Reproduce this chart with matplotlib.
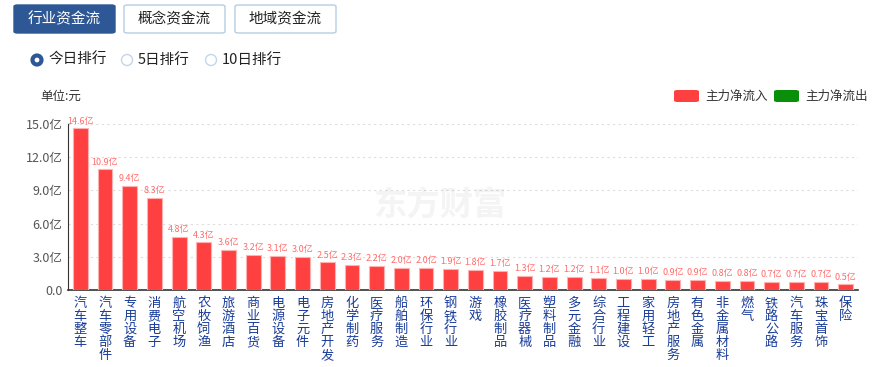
import matplotlib
matplotlib.use('Agg')
import matplotlib.pyplot as plt
from matplotlib.patches import FancyBboxPatch, Ellipse

plt.rcParams['font.family'] = ['Noto Sans CJK SC', 'DejaVu Sans']

# 行业名称与主力净流入(亿元)
industries = ['汽车整车', '汽车零部件', '专用设备', '消费电子', '航空机场', '农牧饲渔',
              '旅游酒店', '商业百货', '电源设备', '电子元件', '房地产开发', '化学制药',
              '医疗服务', '船舶制造', '环保行业', '钢铁行业', '游戏', '橡胶制品',
              '医疗器械', '塑料制品', '多元金融', '综合行业', '工程建设', '家用轻工',
              '房地产服务', '有色金属', '非金属材料', '燃气', '铁路公路', '汽车服务',
              '珠宝首饰', '保险']
inflow = [14.6, 10.9, 9.4, 8.3, 4.8, 4.3, 3.6, 3.2, 3.1, 3.0, 2.5, 2.3, 2.2, 2.0, 2.0,
          1.9, 1.8, 1.7, 1.3, 1.2, 1.2, 1.1, 1.0, 1.0, 0.9, 0.9, 0.8, 0.8, 0.7, 0.7,
          0.7, 0.5]
yticks = [0, 3, 6, 9, 12, 15]
ytick_labels = ['0.0', '3.0亿', '6.0亿', '9.0亿', '12.0亿', '15.0亿']
tabs = ['行业资金流', '概念资金流', '地域资金流']
radios = ['今日排行', '5日排行', '10日排行']

W, H = 874, 367
fig = plt.figure(figsize=(W / 100, H / 100), dpi=100)


def fx(px):
    return px / W


def fy(py):
    return 1 - py / H


# 顶部标签按钮
tab_x = [14, 124, 235]
for i, (t, x0) in enumerate(zip(tabs, tab_x)):
    active = i == 0
    box = FancyBboxPatch((fx(x0), fy(33)), fx(101), 28 / H,
                         boxstyle='round,pad=0,rounding_size=0.004',
                         transform=fig.transFigure,
                         facecolor='#2e5895' if active else 'white',
                         edgecolor='#2e5895' if active else '#b7cde4', lw=1)
    fig.patches.append(box)
    fig.text(fx(x0 + 50.5), fy(19), t, ha='center', va='center', fontsize=10.5,
             color='white' if active else '#222222')

# 单选按钮
radio_x = [37, 127, 211]
for i, (r, x0) in enumerate(zip(radios, radio_x)):
    d = 9 if i == 0 else 11
    c = Ellipse((fx(x0), fy(60)), d / W, d / H, transform=fig.transFigure,
                facecolor='white', edgecolor='#2e5895' if i == 0 else '#c5d6ea',
                lw=3 if i == 0 else 1)
    fig.patches.append(c)
    fig.text(fx(x0 + 11), fy(60), r, ha='left', va='center', fontsize=10.5,
             color='#222222')

fig.text(fx(40), fy(96), '单位:元', ha='left', va='center', fontsize=9, color='#333333')

# 图例
for x0, col, lab in [(674, '#ff4040', '主力净流入'), (774, '#0a8f0a', '主力净流出')]:
    box = FancyBboxPatch((fx(x0), fy(102)), fx(25), 12 / H,
                         boxstyle='round,pad=0,rounding_size=0.004',
                         transform=fig.transFigure, facecolor=col, edgecolor='none')
    fig.patches.append(box)
    fig.text(fx(x0 + 31), fy(96), lab, ha='left', va='center', fontsize=9,
             color='#333333')

# 水印
fig.text(fx(440), fy(206), '东方财富', ha='center', va='center', fontsize=24,
         color='#000000', alpha=0.045, fontweight='bold')

ax = fig.add_axes([fx(68), fy(290), fx(858 - 68), (290 - 124) / H])
x = list(range(len(industries)))
ax.bar(x, inflow, width=0.6, color='#ff4040', edgecolor='#ffb0b0', linewidth=0.8,
       zorder=3)
for xi, v in zip(x, inflow):
    ax.text(xi, v + 0.25, f'{v:.1f}亿', ha='center', va='bottom', fontsize=6.5,
            color='#ff6b6b', clip_on=False)

ax.set_xlim(-0.5, len(industries) - 0.5)
ax.set_ylim(0, 15)
ax.set_yticks(yticks)
ax.set_yticklabels(ytick_labels, fontsize=9, color='#555555')
ax.yaxis.grid(True, linestyle=(0, (2, 3)), color='#dddddd', lw=0.8, zorder=0)
ax.set_xticks(x)
ax.set_xticklabels(['\n'.join(s) for s in industries], fontsize=9.5,
                   color='#1a3d99', linespacing=1.0, va='top')
ax.tick_params(axis='x', length=0, pad=5)
ax.tick_params(axis='y', length=0, pad=4)
for side in ['top', 'right']:
    ax.spines[side].set_visible(False)
ax.spines['left'].set_color('#333333')
ax.spines['bottom'].set_color('#333333')
ax.spines['bottom'].set_linewidth(1.2)

fig.savefig('out.png', dpi=100)
